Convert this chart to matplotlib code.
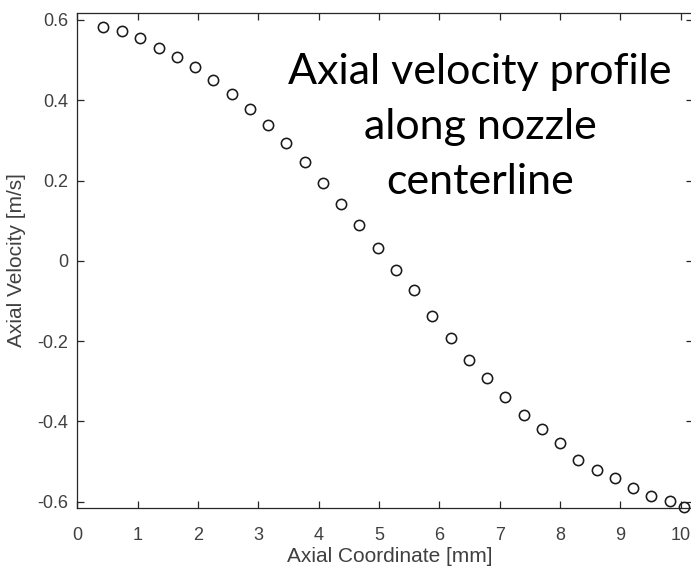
import matplotlib
matplotlib.use("Agg")
import matplotlib.pyplot as plt

# Axial coordinate along the nozzle centerline [mm]
axial_mm = [0.43, 0.74, 1.04, 1.35, 1.65, 1.95, 2.25, 2.56, 2.86, 3.16, 3.46,
            3.77, 4.07, 4.37, 4.67, 4.98, 5.28, 5.58, 5.88, 6.19, 6.49, 6.79,
            7.09, 7.40, 7.70, 8.00, 8.30, 8.61, 8.91, 9.21, 9.51, 9.82, 10.05]

# Axial velocity [m/s]
axial_velocity = [0.583, 0.573, 0.554, 0.531, 0.508, 0.482, 0.450, 0.415,
                  0.378, 0.339, 0.293, 0.247, 0.195, 0.142, 0.088, 0.032,
                  -0.022, -0.072, -0.137, -0.193, -0.246, -0.292, -0.339,
                  -0.385, -0.419, -0.454, -0.497, -0.522, -0.540, -0.567,
                  -0.587, -0.598, -0.614]

x_ticks = [0, 1, 2, 3, 4, 5, 6, 7, 8, 9, 10]
y_ticks = [-0.6, -0.4, -0.2, 0, 0.2, 0.4, 0.6]
y_tick_labels = ["-0.6", "-0.4", "-0.2", "0", "0.2", "0.4", "0.6"]

axis_color = "#262626"
text_color = "#404040"
sans = ["Liberation Sans", "DejaVu Sans"]

W, H = 691, 567
fig = plt.figure(figsize=(W / 100, H / 100), dpi=100)
left, right = 77.3, 692.7
top, bottom = 12.7, 507.7
ax = fig.add_axes([left / W, (H - bottom) / H, (right - left) / W, (bottom - top) / H])

ax.plot(axial_mm, axial_velocity, linestyle="none", marker="o", markersize=7.4,
        markerfacecolor="none", markeredgecolor="#1a1a1a", markeredgewidth=1.15,
        clip_on=False)

ax.set_xlim(0, 10.2)
ax.set_ylim(-0.615, 0.618)
ax.set_xticks(x_ticks)
ax.set_xticklabels([str(t) for t in x_ticks])
ax.set_yticks(y_ticks)
ax.set_yticklabels(y_tick_labels)

for lab in ax.get_xticklabels() + ax.get_yticklabels():
    lab.set_fontfamily(sans)
    lab.set_fontsize(13)
    lab.set_color(text_color)

ax.tick_params(direction="in", length=5, width=0.9, color=axis_color,
               top=True, right=True)
ax.tick_params(axis="x", pad=14)
ax.tick_params(axis="y", pad=6.5)
for side in ax.spines.values():
    side.set_color(axis_color)
    side.set_linewidth(0.9)

fig.text(390 / W, 1 - 557 / H, "Axial Coordinate [mm]", fontsize=15,
         color=text_color, family=sans, ha="center", va="center")
fig.text(17 / W, 1 - 260 / H, "Axial Velocity [m/s]", fontsize=15,
         color=text_color, family=sans, ha="center", va="center", rotation=90)

fig.text(480 / W, 1 - 127 / H, "Axial velocity profile\nalong nozzle\ncenterline",
         ha="center", va="center", multialignment="center", fontsize=31,
         family=["Lato", "DejaVu Sans"], color="black", linespacing=1.54)

fig.savefig("out.png", dpi=100)
